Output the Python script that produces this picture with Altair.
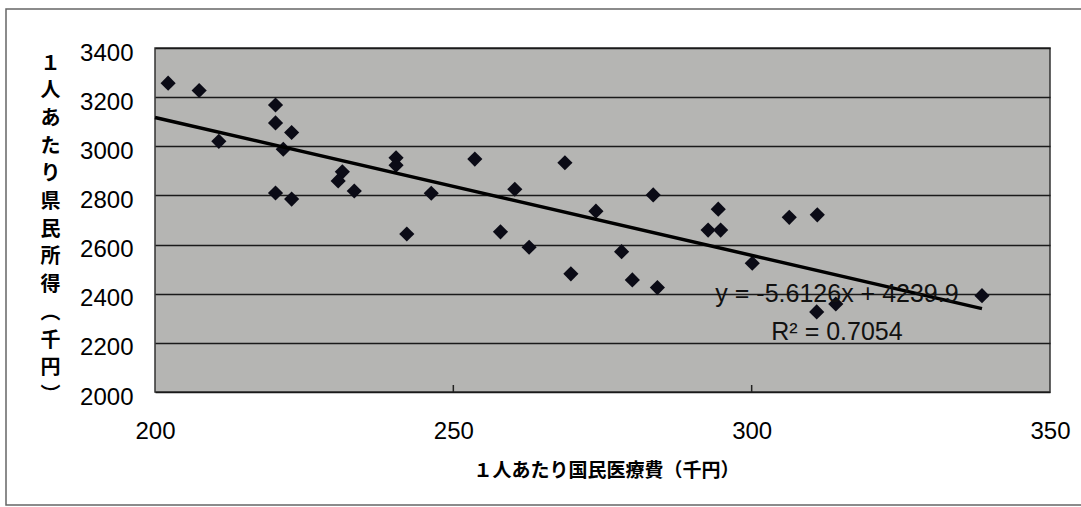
import altair as alt
import pandas as pd

# ---- data ----
medical = [202.2, 207.4, 220.2, 220.2, 222.9, 210.7, 221.5, 240.4, 240.4, 231.4,
           230.7, 233.4, 246.3, 220.2, 222.9, 242.2, 253.6, 268.7, 260.3, 283.5,
           273.9, 294.4, 292.7, 294.8, 257.9, 262.7, 278.2, 269.7, 280.0, 284.2,
           300.1, 306.3, 311.0, 310.9, 314.1, 338.6]
income = [3257, 3227, 3168, 3095, 3056, 3020, 2988, 2953, 2923, 2896,
          2859, 2818, 2809, 2810, 2785, 2643, 2948, 2933, 2825, 2802,
          2736, 2744, 2659, 2659, 2652, 2589, 2571, 2481, 2456, 2425,
          2524, 2711, 2721, 2326, 2358, 2392]

x_ticks = [200, 250, 300, 350]
y_ticks = [2000, 2200, 2400, 2600, 2800, 3000, 3200, 3400]

slope = -5.6126
intercept = 4239.9
trend_x = [200, 338.6]

eq_lines = ["y = -5.6126x + 4239.9", "R² = 0.7054"]
eq_x = [314.3, 314.3]
eq_y = [2400, 2245]

x_title = "１人あたり国民医療費（千円）"
y_title = "１人あたり県民所得（千円）"

# ---- tables ----
pts = pd.DataFrame({"x": medical, "y": income})
trend = pd.DataFrame({"x": trend_x, "y": [slope * v + intercept for v in trend_x]})
eq = pd.DataFrame({"x": eq_x, "y": eq_y, "t": eq_lines})
ticks = pd.DataFrame({"x": x_ticks[1:3]})

vert = {"（": "︵", "）": "︶"}
y_title_lines = [vert.get(c, c) for c in y_title]

W, H = 895, 344
xscale = alt.Scale(domain=[200, 350], nice=False, zero=False)
yscale = alt.Scale(domain=[2000, 3400], nice=False, zero=False)

xaxis = alt.Axis(values=x_ticks, title=x_title, format="d", labelFont="Liberation Sans",
                 labelFontSize=24, labelColor="#000", labelPadding=27,
                 tickSize=0, domain=False, grid=False, labelFlush=False,
                 titleFont="Noto Sans CJK JP", titleFontSize=19,
                 titleFontWeight="bold", titleColor="#000",
                 titleX=451, titleY=78, titleAlign="center",
                 titleBaseline="middle", titleAnchor="start")
yaxis = alt.Axis(values=y_ticks, title=y_title_lines, format="d", labelFont="Liberation Sans",
                 labelFontSize=24, labelColor="#000", labelPadding=22,
                 labelOffset=5, tickSize=0, domain=False, grid=True,
                 gridColor="#1a1a1a", gridWidth=1.5, labelFlush=False,
                 titleFont="Noto Sans CJK JP", titleFontSize=20,
                 titleFontWeight="bold", titleColor="#000", titleAngle=0,
                 titleX=-105, titleY=5, titleAlign="center",
                 titleBaseline="top", titleLineHeight=27.7, titleAnchor="start")

frame = alt.Chart(pd.DataFrame({"a": [0]})).mark_rect(
    fillOpacity=0, stroke="#666666", strokeWidth=1.5
).encode(x=alt.value(-149), x2=alt.value(960), y=alt.value(-39), y2=alt.value(457))

points = alt.Chart(pts).mark_point(
    shape="diamond", filled=True, size=230, color="#0b0b16", opacity=1
).encode(
    x=alt.X("x:Q", scale=xscale, axis=xaxis),
    y=alt.Y("y:Q", scale=yscale, axis=yaxis),
)

line = alt.Chart(trend).mark_line(color="#000000", strokeWidth=3.5).encode(
    x=alt.X("x:Q", scale=xscale), y=alt.Y("y:Q", scale=yscale)
)

tick_marks = alt.Chart(ticks).mark_rule(color="#222222", strokeWidth=1.5).encode(
    x=alt.X("x:Q", scale=xscale), y=alt.value(H), y2=alt.value(H - 7)
)

eq_text = alt.Chart(eq).mark_text(
    font="Liberation Sans", fontSize=25, align="center", baseline="middle", color="#111111"
).encode(x=alt.X("x:Q", scale=xscale), y=alt.Y("y:Q", scale=yscale), text="t:N")

chart = alt.layer(frame, points, line, tick_marks, eq_text).properties(
    width=W, height=H,
    autosize=alt.AutoSizeParams(type="none"),
    padding={"left": 155, "top": 48, "right": 31, "bottom": 115},
    background="white",
).configure_view(stroke="#333333", strokeWidth=1.5, fill="#b5b5b3")

chart.save("out.html", embed_options={"renderer": "svg", "actions": False})
